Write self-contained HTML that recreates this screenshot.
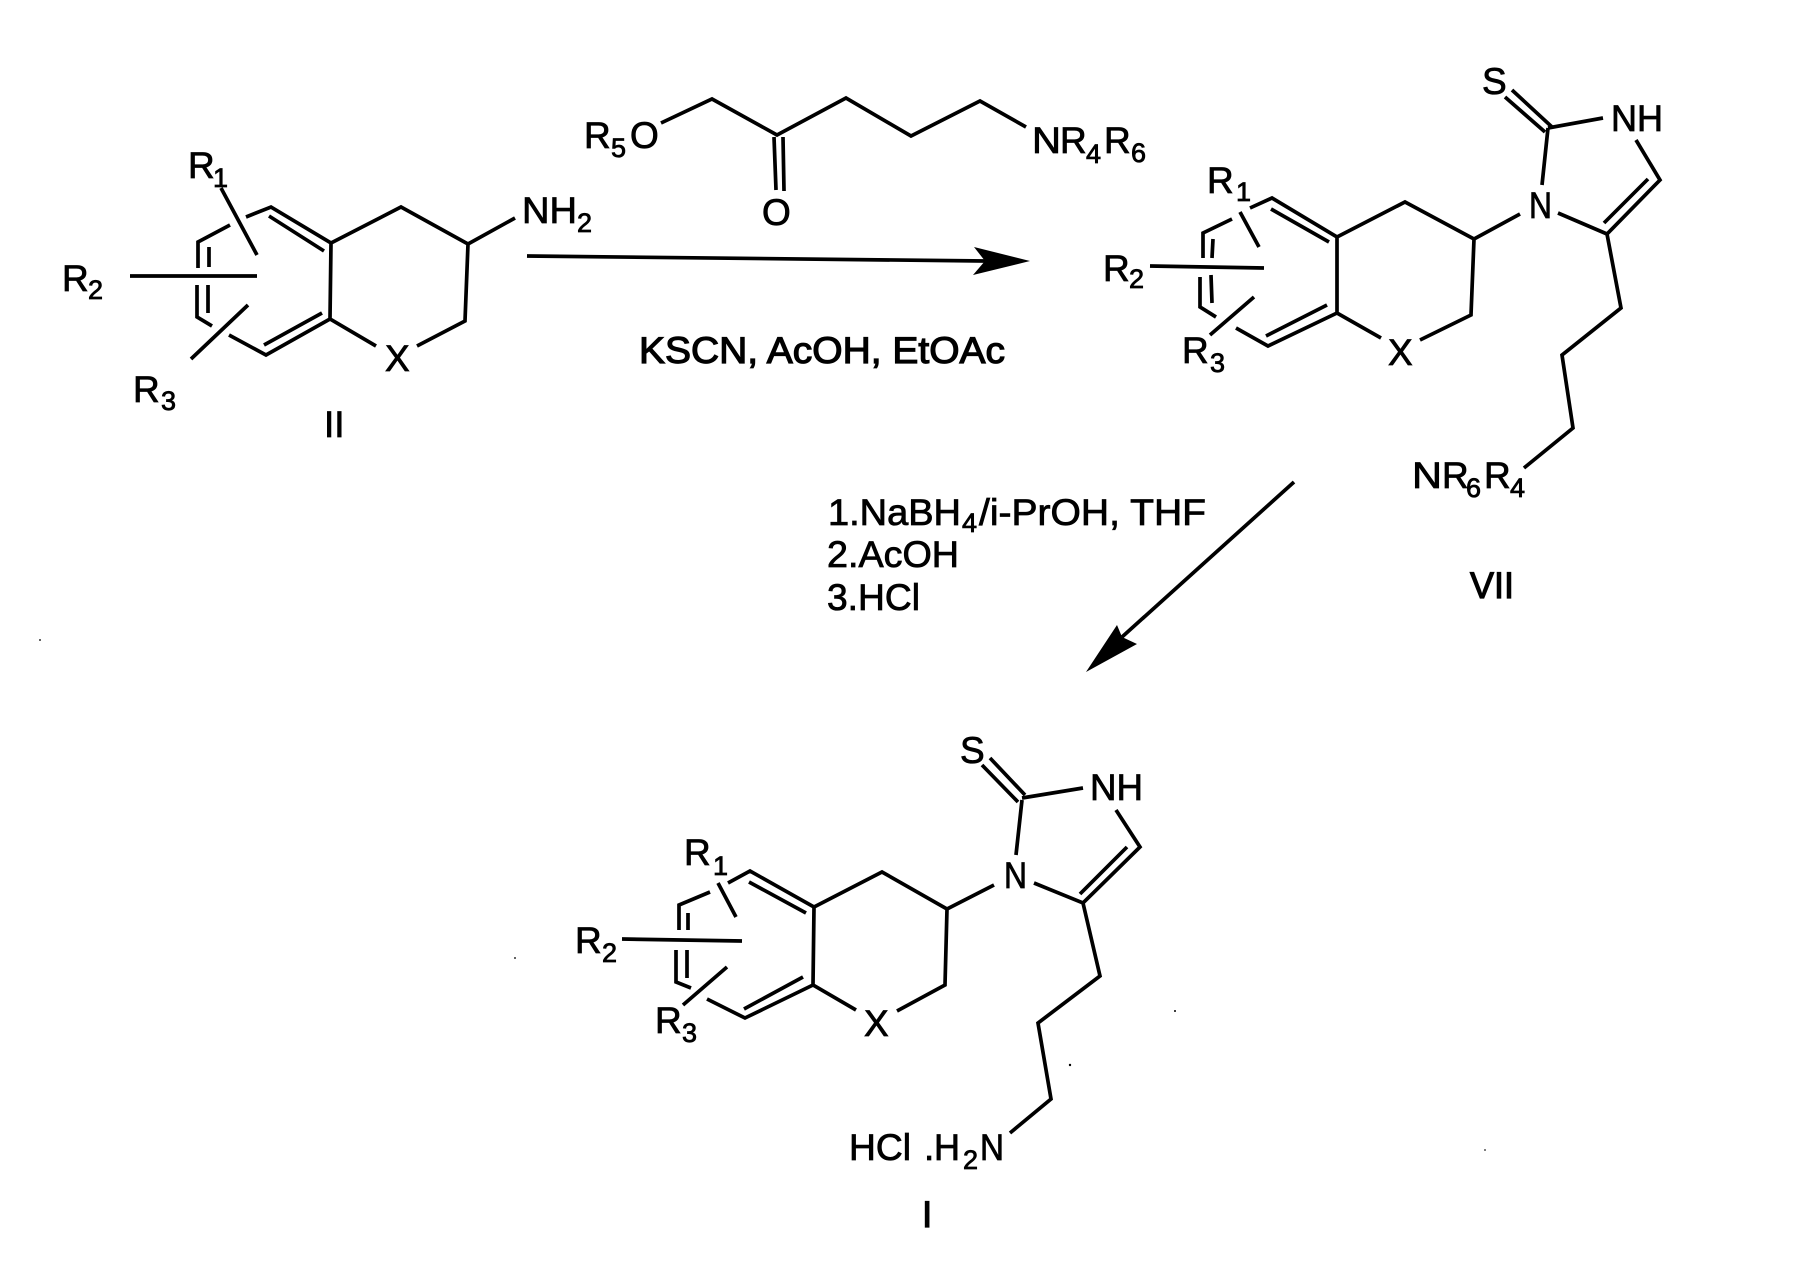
<!DOCTYPE html>
<html><head><meta charset="utf-8"><style>
html,body{margin:0;padding:0;background:#fff;width:1803px;height:1282px;overflow:hidden}
svg{display:block}
text{font-family:"Liberation Sans",sans-serif;fill:#000;stroke:#000;stroke-width:.8px}
.t{font-size:37px}.s{font-size:27px}.b{stroke-width:1.2px}
path{fill:none;stroke:#000;stroke-width:3.7px;stroke-linejoin:miter}
</style></head><body>
<svg width="1803" height="1282" viewBox="0 0 1803 1282" xmlns="http://www.w3.org/2000/svg">
<!-- II -->
<path d="M246 217L271 207L331 243L401 207L468 244L515 218M468 244L465 321L417 346M331 243L330 319L376 346M330 319L266 355L229 335M212 326L197 317V285M208 285V313M198 268V242L230 225M209 247V267M269 216L324 251M264 345L322 313M221 188L257 255M130 276H257M248 305L191 359"/>
<text class="t" x="188" y="178">R</text><text class="s" x="213" y="187">1</text>
<text class="t" x="62" y="291">R</text><text class="s" x="88" y="299">2</text>
<text class="t" x="133" y="402">R</text><text class="s" x="161" y="410">3</text>
<text class="t" x="522" y="223" textLength="55" lengthAdjust="spacingAndGlyphs">NH</text><text class="s" x="577" y="232">2</text>
<text class="t" x="385" y="371">X</text>
<text class="t" x="324" y="437">II</text>
<!-- reagent -->
<path d="M661 123L712 99L777 135L846 98L911 136L980 101L1026 127M774 137L776 190M783 137L784 191"/>
<text class="t" x="584" y="148">R</text><text class="s" x="611" y="157">5</text><text class="t" x="630" y="148">O</text>
<text class="t" x="762" y="225">O</text>
<text class="t" x="1032" y="153" textLength="29" lengthAdjust="spacingAndGlyphs">N</text><text class="t" x="1060" y="153">R</text><text class="s" x="1086" y="163">4</text><text class="t" x="1104" y="153">R</text><text class="s" x="1131" y="162">6</text>
<!-- arrow 1 -->
<path d="M527 256L985 261"/>
<polygon points="1030,261 974,247 985,261 973,275" fill="#000"/>
<text class="t b" x="639" y="363" textLength="366" lengthAdjust="spacingAndGlyphs">KSCN, AcOH, EtOAc</text>
<!-- VII -->
<path d="M1250 208L1272 198L1337 237L1405 202L1474 239L1520 214M1474 239L1471 315L1420 340M1337 237V313L1381 338M1337 313L1268 346L1236 328M1216 317L1200 307V277M1211 275L1212 303M1203 258V233L1232 219M1213 239L1212 258M1271 209L1329 242M1266 336L1327 305M1240 212L1259 247M1150 266L1264 268M1254 297L1210 335"/>
<path d="M1505 97L1545 132M1512 90L1552 127M1548 128L1603 118M1548 128L1542 185M1636 140L1660 180L1607 234L1558 213M1648 179L1604 223M1607 234L1621 308L1562 355L1573 428L1524 468"/>
<text class="t" x="1207" y="193">R</text><text class="s" x="1236" y="201">1</text>
<text class="t" x="1103" y="281">R</text><text class="s" x="1129" y="288">2</text>
<text class="t" x="1182" y="363">R</text><text class="s" x="1210" y="372">3</text>
<text class="t" x="1388" y="365">X</text>
<text class="t" x="1482" y="94">S</text>
<text class="t" x="1611" y="131" textLength="52" lengthAdjust="spacingAndGlyphs">NH</text>
<text class="t" x="1529" y="218" textLength="23" lengthAdjust="spacingAndGlyphs">N</text>
<text class="t" x="1412" y="488" textLength="30" lengthAdjust="spacingAndGlyphs">N</text><text class="t" x="1442" y="488">R</text><text class="s" x="1466" y="497">6</text><text class="t" x="1484" y="488">R</text><text class="s" x="1510" y="497">4</text>
<text class="t b" x="1470" y="598" textLength="44" lengthAdjust="spacingAndGlyphs">VII</text>
<!-- arrow 2 -->
<path d="M1294 482L1122 637"/>
<polygon points="1086,672 1117,625 1122,637 1137,644" fill="#000"/>
<text class="t" x="828" y="525" textLength="133" lengthAdjust="spacingAndGlyphs">1.NaBH</text><text class="s" x="962" y="532">4</text><text class="t" x="979" y="525" textLength="227" lengthAdjust="spacingAndGlyphs">/i-PrOH, THF</text>
<text class="t" x="827" y="567" textLength="132" lengthAdjust="spacingAndGlyphs">2.AcOH</text>
<text class="t" x="827" y="610" textLength="93" lengthAdjust="spacingAndGlyphs">3.HCl</text>
<!-- I -->
<path d="M728 883L750 871L814 907L882 872L947 909L994 885M947 909L945 985L897 1011M814 907L813 985L856 1010M813 985L745 1018L707 999M691 988L676 982V950M687 950V978M679 930V905L710 892M688 913V930M749 882L806 913M744 1009L803 977M718 883L736 917M622 939L742 941M727 967L683 1005"/>
<path d="M982 765L1018 802M990 758L1025 795M1022 798L1083 788M1022 800L1016 855M1116 810L1140 847L1083 903L1034 883M1127 847L1080 894M1083 903L1100 976L1038 1023L1051 1099L1010 1133"/>
<text class="t" x="684" y="865">R</text><text class="s" x="713" y="875">1</text>
<text class="t" x="575" y="953">R</text><text class="s" x="602" y="962">2</text>
<text class="t" x="655" y="1033">R</text><text class="s" x="682" y="1042">3</text>
<text class="t" x="864" y="1036">X</text>
<text class="t" x="960" y="763">S</text>
<text class="t" x="1090" y="800" textLength="53" lengthAdjust="spacingAndGlyphs">NH</text>
<text class="t" x="1004" y="888" textLength="23" lengthAdjust="spacingAndGlyphs">N</text>
<text class="t" x="849" y="1160" textLength="62" lengthAdjust="spacingAndGlyphs">HCl</text>
<text class="t" x="924" y="1160">.</text>
<text class="t" x="934" y="1160" textLength="26" lengthAdjust="spacingAndGlyphs">H</text><text class="s" x="963" y="1169">2</text><text class="t" x="980" y="1160" textLength="24" lengthAdjust="spacingAndGlyphs">N</text>
<text class="t b" x="922" y="1227">I</text>
<!-- specks -->
<circle cx="40" cy="640" r="1" fill="#333"/><circle cx="515" cy="958" r="1" fill="#333"/><circle cx="1070" cy="1065" r="1.2" fill="#000"/><circle cx="1175" cy="1011" r="1" fill="#000"/><circle cx="1485" cy="1150" r="1" fill="#555"/>
</svg>
</body></html>
